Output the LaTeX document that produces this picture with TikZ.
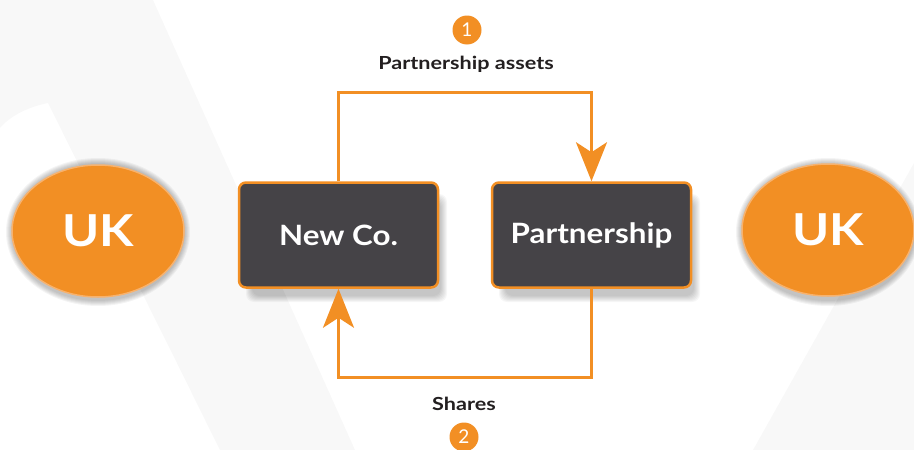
\documentclass[tikz,border=0pt]{standalone}
\usepackage{fontspec}
\setmainfont{Lato}
\newfontfamily\lblfont[FakeStretch=1.2]{Lato}
\newfontfamily\boxfont[FakeStretch=1.12]{Lato}
\newfontfamily\ukfont[FakeStretch=1.14]{Lato}
\usetikzlibrary{arrows.meta,shapes.geometric}
\definecolor{orng}{HTML}{F28F24}
\definecolor{lorng}{HTML}{F7B26E}
\definecolor{boxfill}{HTML}{454347}
\definecolor{bgshape}{HTML}{F8F8F8}
\definecolor{txt}{HTML}{231F20}
\tikzset{
  entity/.style={rectangle, rounded corners=7pt, fill=boxfill, draw=orng, line width=2.5pt,
    minimum width=199pt, minimum height=105pt, text=white, font=\boxfont\bfseries\fontsize{28}{30}\selectfont},
  country/.style={ellipse, fill=orng, draw=lorng, line width=1.5pt, minimum width=172pt,
    minimum height=132pt, inner sep=0pt, text=white, font=\ukfont\bfseries\fontsize{44}{48}\selectfont},
  num/.style={circle, fill=orng, minimum size=29pt, inner sep=0pt, text=white,
    font=\fontsize{19}{20}\selectfont},
  lbl/.style={text=txt, font=\lblfont\bfseries\fontsize{18}{20}\selectfont},
  conn/.style={draw=orng, line width=3pt, -{Stealth[length=39pt,width=31pt,inset=10pt]}},
  boxshadow/.style={fill=black, opacity=0.035, rounded corners=8pt},
  ellshadow/.style={fill=black, opacity=0.045},
}
\begin{document}
\begin{tikzpicture}[x=1pt, y=-1pt]
\useasboundingbox (0,0) rectangle (914,450);
% faint background shapes
\fill[bgshape] (0,0) -- (153,0) -- (355,450) -- (220,450) -- (48,103)
  .. controls (28,107) and (10,116) .. (0,128) -- cycle;
\fill[bgshape] (914,163) -- (753,450) -- (914,450) -- cycle;
% shadows
\foreach \k in {0,...,6} {
  \fill[boxshadow] (246+\k,194+\k) rectangle (447-\k,302-\k);
  \fill[boxshadow] (499+\k,194+\k) rectangle (700-\k,302-\k);
}
\foreach \k in {0,...,5} {
  \fill[ellshadow] (98,232) ellipse ({92-\k} and {74-\k});
  \fill[ellshadow] (828,232) ellipse ({92-\k} and {74-\k});
}
% nodes
\node[country] (ukl) at (98,231) {UK};
\node[country] (ukr) at (828,230) {UK};
\node[entity] (newco) at (338.5,235) {New Co.};
\node[entity] (partner) at (591.5,235) {Partnership};
\coordinate (top) at (466,92);
\coordinate (bot) at (466,377);
% connectors
\draw[conn] (newco.north) -- (newco.north |- top) -| (partner.north);
\draw[conn] (partner.south) -- (partner.south |- bot) -| (newco.south);
% labels
\node[lbl] (lab1) at (466,64) {Partnership assets};
\node[num] (n1) at (467,30) {1};
\node[lbl] (lab2) at (464,404) {Shares};
\node[num] (n2) at (464,437) {2};
\end{tikzpicture}
\end{document}
